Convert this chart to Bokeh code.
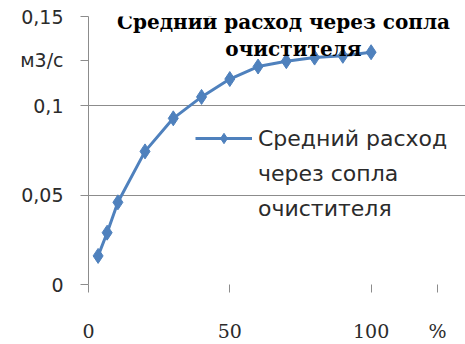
from bokeh.plotting import figure
from bokeh.models import (FixedTicker, CustomJSTickFormatter, Legend, LegendItem,
                          Label, Range1d)
from bokeh.embed import file_html
from bokeh.resources import INLINE

# Nozzle opening, %
opening = [3.4, 6.6, 10.4, 20, 30, 40, 50, 60, 70, 80, 90, 100]
# Average flow through the cleaner nozzles, m3/s
flow = [0.016, 0.029, 0.046, 0.0745, 0.093, 0.105, 0.115, 0.122, 0.125, 0.127, 0.128, 0.13]

x_ticks = [0, 50, 100]
y_ticks = [0, 0.05, 0.1, 0.15]
series_lines = ["Средний расход", "через сопла", "очистителя"]
title_lines = ["Средний расход через сопла", "очистителя"]
y_unit = "м3/с"
x_unit = "%"
# where the unit captions sit along their axes
y_unit_at = 0.1256
x_unit_at = 123.5

BLUE = "#4f81bd"
GRID = "#8c8c8c"
TEXT = "#2b2b2b"

p = figure(width=465, height=344, output_backend="svg", toolbar_location=None,
           x_range=Range1d(0, 133.4), y_range=Range1d(0, 0.15),
           min_border_left=88, min_border_right=0, min_border_top=16,
           min_border_bottom=57)
p.outline_line_color = None
p.background_fill_color = "white"
p.border_fill_color = "white"

line_r = p.line(opening, flow, line_color=BLUE, line_width=3)
mark_r = p.scatter(opening, flow, marker="diamond", size=15,
                   fill_color=BLUE, line_color=BLUE)
# no-glyph renderer for the wrapped continuation lines of the legend entry
blank_r = p.scatter([], [], alpha=0)

# axes; unit captions are carried as extra labels at the end of each axis
p.xaxis.ticker = FixedTicker(ticks=x_ticks + [x_unit_at])
p.yaxis.ticker = FixedTicker(ticks=y_ticks + [y_unit_at])
p.xaxis.formatter = CustomJSTickFormatter(
    args=dict(at=x_unit_at, unit=x_unit),
    code="return Math.abs(tick - at) < 1e-6 ? unit : tick.toString()")
p.yaxis.formatter = CustomJSTickFormatter(
    args=dict(at=y_unit_at, unit=y_unit),
    code="return Math.abs(tick - at) < 1e-9 ? unit : tick.toString().replace('.', ',')")
p.xaxis.minor_tick_line_color = None
p.yaxis.minor_tick_line_color = None
p.xaxis.axis_line_color = None
p.yaxis.axis_line_color = GRID
p.xaxis.major_tick_line_color = GRID
p.yaxis.major_tick_line_color = GRID
p.xaxis.major_tick_in = 0
p.xaxis.major_tick_out = 8
p.yaxis.major_tick_in = 0
p.yaxis.major_tick_out = 8
p.xaxis.major_label_standoff = 27
p.yaxis.major_label_standoff = 17
p.xaxis.major_label_text_font = "DejaVu Serif"
p.xaxis.major_label_text_font_size = "19px"
p.xaxis.major_label_text_color = TEXT
p.yaxis.major_label_text_font = "DejaVu Sans"
p.yaxis.major_label_text_font_size = "19px"
p.yaxis.major_label_text_color = TEXT

p.xgrid.grid_line_color = None
p.ygrid.ticker = FixedTicker(ticks=[0.05, 0.1, 0.15])
p.ygrid.grid_line_color = GRID
p.ygrid.grid_line_width = 1

# chart title, overlapping the top of the plot area
p.add_layout(Label(x=69, y=0.1471, text=title_lines[0], text_align="center",
                   text_baseline="middle", text_font="DejaVu Serif",
                   text_font_style="bold", text_font_size="20px", text_color="black"))
p.add_layout(Label(x=72.5, y=0.1316, text=title_lines[1], text_align="center",
                   text_baseline="middle", text_font="DejaVu Serif",
                   text_font_style="bold", text_font_size="20px", text_color="black"))

items = [LegendItem(label=series_lines[0], renderers=[line_r, mark_r])]
items += [LegendItem(label=t, renderers=[blank_r]) for t in series_lines[1:]]
legend = Legend(items=items, location=(107, 63), orientation="vertical",
                glyph_width=57, glyph_height=26, label_height=26,
                label_standoff=6, padding=0, margin=0, spacing=9,
                border_line_alpha=0, background_fill_alpha=0,
                label_text_font="DejaVu Sans", label_text_font_size="22px",
                label_text_color=TEXT)
p.add_layout(legend)

open("out.html", "w").write(file_html(p, INLINE))
